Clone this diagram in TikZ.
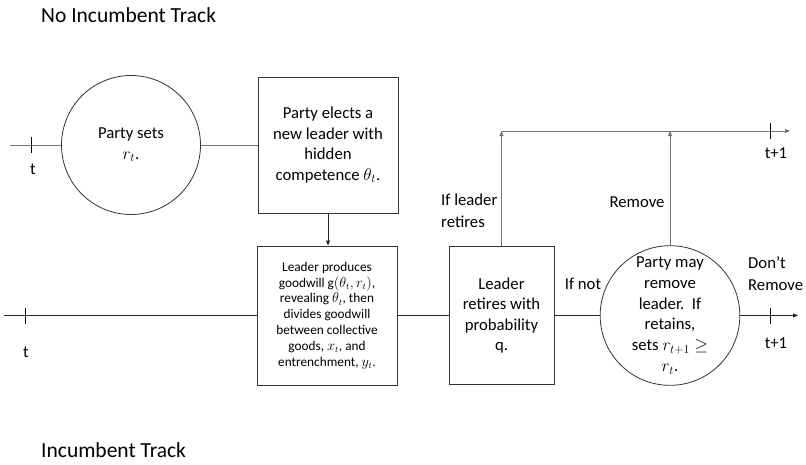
\documentclass[tikz,border=0pt]{standalone}
\usepackage{fontspec}
\setmainfont{Carlito}
\usetikzlibrary{arrows.meta}
\begin{document}
\begin{tikzpicture}[x=1pt,y=-1pt,
  every node/.style={inner sep=0pt, font=\fontsize{16.7}{20.5}\selectfont},
  shapeline/.style={draw=black!80, line width=0.8pt},
  boxnode/.style={shapeline, rectangle, align=center},
  circnode/.style={shapeline, circle, align=center},
  topline/.style={draw=black!55, line width=0.9pt},
  botline/.style={draw=black!85, line width=0.9pt},
  tickline/.style={draw=black, line width=0.8pt},
  arr/.style={-{Triangle[length=5pt,width=4pt]}},
  lbl/.style={align=left, anchor=west},
  title/.style={anchor=west, font=\fontsize{21.5}{26}\selectfont}
]
\useasboundingbox (0,0) rectangle (806,464);

% titles
\node[title] (t1) at (41,15) {No Incumbent Track};
\node[title] (t2) at (41,450) {Incumbent Track};

% nodes
\node[circnode, minimum size=139] (c1) at (131,145) {Party sets\\$r_t$.};
\node[boxnode, minimum width=140, minimum height=136] (b1) at (328,145)
  {Party elects a\\new leader with\\hidden\\competence $\theta_t$.};
\node[boxnode, minimum width=140, minimum height=139,
      font=\fontsize{13.3}{15.8}\selectfont] (b2) at (327,315.5)
  {Leader produces\\goodwill g$(\theta_t, r_t)$,\\revealing $\theta_t$, then\\divides goodwill\\between collective\\goods, $x_t$, and\\entrenchment, $y_t$.};
\node[boxnode, minimum width=105, minimum height=138] (b3) at (501.5,315.5)
  {Leader\\retires with\\probability\\q.};
\node[circnode, minimum size=134, font=\fontsize{16.7}{20.8}\selectfont] (c2) at (670,315.5)
  {Party may\\remove\\leader.\ \ If\\retains,\\sets $r_{t+1}\geq$\\$r_t$.};

% coordinates
\coordinate (ts) at (10,145);
\coordinate (tk1) at (31,145);
\coordinate (bs) at (4,315.5);
\coordinate (tk2) at (25,315.5);
\coordinate (tl0) at (b3.north |- 0,131);
\coordinate (tlm) at (c2.north |- 0,131);
\coordinate (te) at (790,131);
\coordinate (tk3) at (770,131);
\coordinate (be) at (798,315.5);
\coordinate (tk4) at (770,315.5);

% top track
\draw[topline] (ts) -- (c1.west);
\draw[topline] (c1.east) -- (b1.west);
\draw[tickline] ([yshift=-8]tk1) -- ([yshift=8]tk1);
\node (lt1) at (33,169) {t};
\draw[botline, arr] (b1.south) -- (b1.south |- b2.north);

% bottom track
\draw[botline] (bs) -- (b2.west);
\draw[tickline] ([yshift=-8]tk2) -- ([yshift=8]tk2);
\node (lt2) at (26,352) {t};
\draw[botline] (b2.east) -- (b3.west);
\draw[botline] (b3.east) -- (c2.west);
\draw[botline, arr] (c2.east) -- (be);
\draw[tickline] ([yshift=-8]tk4) -- ([yshift=8]tk4);
\node (lt4) at (776,343) {t+1};

% upward branches
\draw[topline, arr] (b3.north) -- (tl0);
\draw[topline, arr] (c2.north) -- (tlm);
\draw[topline, arr] (tl0) -- (te);
\draw[tickline] ([yshift=-8]tk3) -- ([yshift=8]tk3);
\node (lt3) at (776,153) {t+1};

% labels
\node[lbl, font=\fontsize{16.7}{22}\selectfont] (l1) at (441,211) {If leader\\retires};
\node (l2) at (637,202) {Remove};
\node (l3) at (583,284) {If not};
\node[lbl, font=\fontsize{16.7}{22}\selectfont] (l4) at (748,274) {Don’t\\Remove};
\end{tikzpicture}
\end{document}
